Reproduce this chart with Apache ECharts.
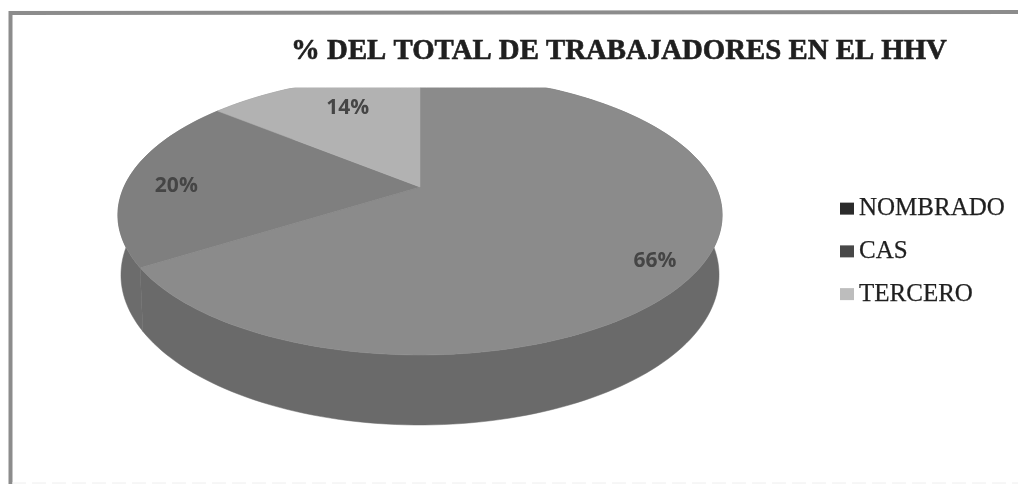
<!DOCTYPE html>
<html>
<head>
<meta charset="utf-8">
<style>
  html, body { margin: 0; padding: 0; background: #fff; }
  #chart { width: 1018px; height: 484px; }
</style>
<script src="https://cdn.jsdelivr.net/npm/echarts@6/dist/echarts.min.js"></script>
</head>
<body>
<div id="chart"></div>
<script>
const categories = ['NOMBRADO', 'CAS', 'TERCERO'];
const shares = [66, 20, 14];

const topColors = ['#8b8b8b', '#7f7f7f', '#b2b2b2'];
const wallColors = ['#6a6a6a', '#6c6c6c', '#8f8f8f'];
const legendColors = ['#2b2b2b', '#484848', '#bdbdbd'];

// label spot inside each slice, as a fraction of the radius plus a nudge in px
const labelRadius = [0.83, 0.83, 0.7];
const labelNudge = [[1, 16], [-1, 6], [6, -3]];

// perspective view of the disc: back edge looks smaller than the front
const tilt = 0.2;
const topDisc = { cx: 420, cy: 187, a: 296, b: 134.4 };
const baseDisc = { cx: 420, cy: 245, a: 293, b: 144 };
const clipTop = 88;

function project(disc, r, deg) {
  const t = (deg * Math.PI) / 180;
  const u = r * Math.sin(t);
  const v = r * Math.cos(t);
  const w = 1 + tilt * v;
  return [disc.cx + (disc.a * u) / w, Math.max(clipTop, disc.cy - (disc.b * v) / w)];
}

function rim(disc, from, to) {
  const pts = [];
  const steps = Math.ceil((to - from) / 1.5);
  for (let i = 0; i <= steps; i++) {
    pts.push(project(disc, 1, from + ((to - from) * i) / steps));
  }
  return pts;
}

const total = shares.reduce((s, v) => s + v, 0);

function makeRender(index) {
  return (params, api) => {
    let before = 0;
    for (let i = 0; i < index; i++) before += shares[i];
    const from = (before / total) * 360;
    const to = from + (api.value(0) / total) * 360;
    const mid = (from + to) / 2;
    const spot = project(topDisc, labelRadius[index], mid);
    const topRim = rim(topDisc, from, to);
    const baseRim = rim(baseDisc, from, to).reverse();
    return {
      type: 'group',
      children: [
        {
          type: 'polygon',
          z2: 1,
          shape: { points: topRim.concat(baseRim) },
          style: { fill: wallColors[index], stroke: wallColors[index], lineWidth: 0.5 },
        },
        {
          type: 'polygon',
          z2: 2,
          shape: { points: [[topDisc.cx, topDisc.cy]].concat(topRim) },
          style: { fill: topColors[index], stroke: topColors[index], lineWidth: 0.5 },
        },
        {
          type: 'text',
          z2: 3,
          style: {
            x: spot[0] + labelNudge[index][0],
            y: spot[1] + labelNudge[index][1],
            text: api.value(0) + '%',
            fill: '#454545',
            font: 'bold 21px "Open Sans", sans-serif',
            align: 'center',
            verticalAlign: 'middle',
          },
        },
      ],
    };
  };
}

const chart = echarts.init(document.getElementById('chart'));

chart.setOption({
  animation: false,
  backgroundColor: '#ffffff',
  title: {
    text: '% DEL TOTAL DE TRABAJADORES EN EL HHV',
    left: 614,
    top: 32,
    textAlign: 'center',
    textStyle: {
      fontFamily: '"Liberation Serif"',
      fontWeight: 'bold',
      fontSize: 28.8,
      color: '#1f1f1f',
      textBorderColor: '#1f1f1f',
      textBorderWidth: 0.6,
    },
  },
  legend: {
    orient: 'vertical',
    left: 840,
    top: 196,
    padding: 0,
    itemWidth: 14,
    itemHeight: 12,
    itemGap: 17.5,
    icon: 'rect',
    selectedMode: false,
    textStyle: {
      fontFamily: '"Liberation Serif"',
      fontSize: 25,
      color: '#1f1f1f',
      textBorderColor: '#1f1f1f',
      textBorderWidth: 0.25,
    },
    data: categories.map((name, i) => ({ name, itemStyle: { color: legendColors[i] } })),
  },
  graphic: [
    {
      type: 'polyline',
      silent: true,
      shape: { points: [[10.5, 484], [10.5, 13], [1018, 12]] },
      style: { fill: 'none', stroke: '#8c8c8c', lineWidth: 4 },
    },
    {
      type: 'line',
      silent: true,
      shape: { x1: 12, y1: 483, x2: 1018, y2: 483 },
      style: { stroke: '#eeeeee', lineWidth: 1, lineDash: [14, 6] },
    },
  ],
  series: categories.map((name, i) => ({
    name,
    type: 'custom',
    coordinateSystem: 'none',
    silent: true,
    clip: false,
    renderItem: makeRender(i),
    data: [shares[i]],
  })),
});
</script>
</body>
</html>
